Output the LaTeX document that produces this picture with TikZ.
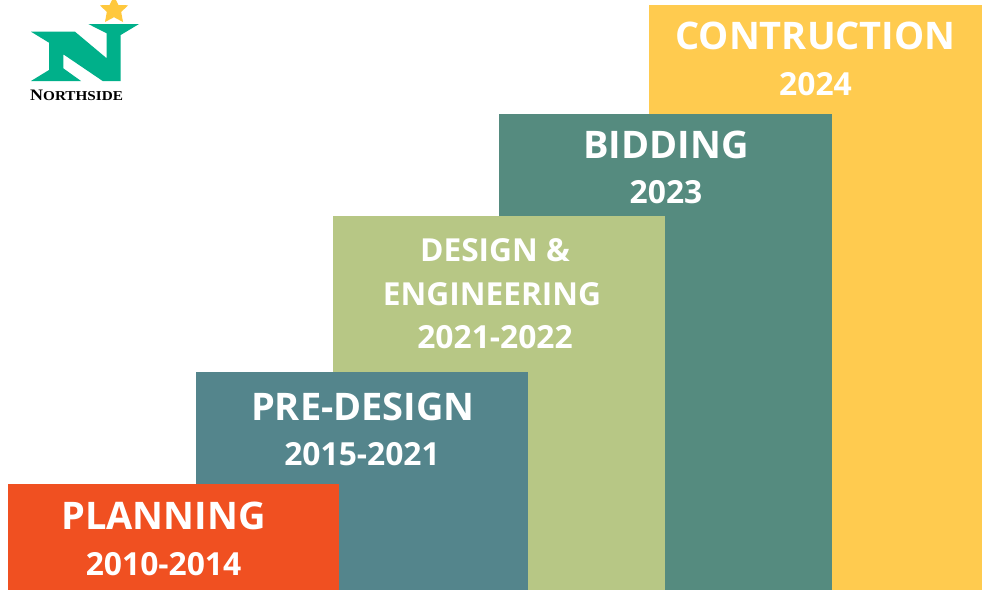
\documentclass[tikz,border=0pt]{standalone}
\usepackage{fontspec}
\setmainfont{Open Sans}
\newfontfamily\logofont{Liberation Serif}
\definecolor{cyellow}{HTML}{FFCB4F}
\definecolor{cgreen}{HTML}{558B7F}
\definecolor{colive}{HTML}{B7C785}
\definecolor{cteal}{HTML}{54858C}
\definecolor{corange}{HTML}{F05021}
\definecolor{clogo}{HTML}{00B08A}
\definecolor{cstar}{HTML}{FFC83D}
\tikzset{
  bigtitle/.style={text=white,font=\bfseries\fontsize{38}{38}\selectfont,inner sep=0pt,anchor=base,align=center},
  midtitle/.style={text=white,font=\bfseries\fontsize{31.7}{31.7}\selectfont,inner sep=0pt,anchor=base,align=center},
  yeartext/.style={text=white,font=\bfseries\fontsize{31.8}{31.8}\selectfont,inner sep=0pt,anchor=base,align=center},
}
\begin{document}
\begin{tikzpicture}[x=1pt,y=-1pt]
\useasboundingbox (0,0) rectangle (985,590);
\fill[white] (0,0) rectangle (985,590);
\fill[cyellow] (649,5) rectangle (982,590);
\fill[cgreen] (499,114) rectangle (832,590);
\fill[colive] (333,216) rectangle (665,590);
\fill[cteal] (196,372) rectangle (528,590);
\fill[corange] (8,484) rectangle (339,590);
% logo
\begin{scope}
\clip (0,0) rectangle (985,590);
\fill[cstar] (114,-4) -- (118.4,5) -- (128,5.3) -- (121.2,12) -- (123,22) -- (114,17.2) -- (105,22) -- (106.8,12) -- (100,5.3) -- (109.6,5) -- cycle;
\end{scope}
\fill[clogo] (31,31.7) -- (75,31.7) -- (106.7,58.3) -- (106.7,33.3) -- (88.3,24) -- (139,24) -- (120.7,35) -- (120.7,81) -- (102.7,81) -- (63.3,54.3) -- (63.3,68.3) -- (81,81) -- (31,81) -- (49,70) -- (49,42.7) -- cycle;
\node[inner sep=0pt,anchor=base west,xscale=1.12,transform shape,text=black,font=\logofont\bfseries\fontsize{16}{16}\selectfont] (logotext) at (30,100) {N\fontsize{13.6}{13.6}\selectfont ORTHSIDE};
% labels
\node[bigtitle] (t1) at (815.5,49) {CONTRUCTION};
\node[yeartext] (y1) at (815.5,95) {2024};
\node[bigtitle] (t2) at (666,158) {BIDDING};
\node[yeartext] (y2) at (666,203) {2023};
\node[midtitle] (t3a) at (495,261) {DESIGN \&};
\node[midtitle] (t3b) at (492,305) {ENGINEERING};
\node[yeartext] (y3) at (495,348) {2021-2022};
\node[bigtitle] (t4) at (363,420) {PRE-DESIGN};
\node[yeartext] (y4) at (362,465) {2015-2021};
\node[bigtitle] (t5) at (163.5,529) {PLANNING};
\node[yeartext] (y5) at (163.5,575) {2010-2014};
\end{tikzpicture}
\end{document}
